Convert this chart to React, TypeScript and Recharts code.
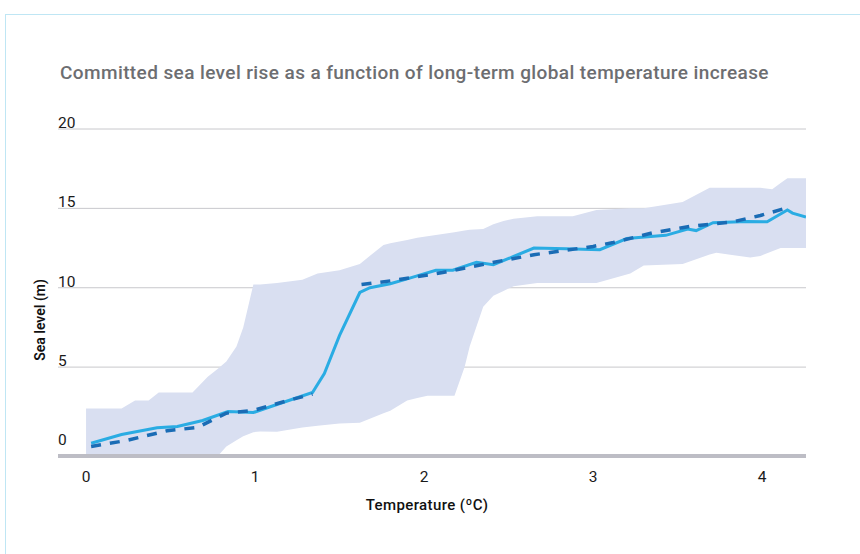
import React from "react";
import {
  ComposedChart,
  Area,
  Line,
  XAxis,
  YAxis,
  CartesianGrid,
} from "recharts";

// temperature (ºC) -> sea level (m)
const bandT = [
  0, 0.21, 0.29, 0.37, 0.43, 0.63, 0.72, 0.78, 0.83, 0.89, 0.93, 0.99, 1.03,
  1.13, 1.2, 1.28, 1.37, 1.5, 1.62, 1.76, 1.8, 1.9, 1.96, 2.02, 2.18, 2.24,
  2.27, 2.35, 2.41, 2.47, 2.53, 2.67, 2.88, 3.02, 3.22, 3.3, 3.53, 3.69, 3.73,
  3.93, 3.99, 4.06, 4.11, 4.15, 4.26,
];
const bandLow = [
  -0.6, -0.6, -0.6, -0.6, -0.6, -0.6, -0.6, -0.6, 0.0, 0.4, 0.65, 0.9, 0.95,
  0.93, 1.05, 1.2, 1.3, 1.45, 1.5, 2.1, 2.25, 2.9, 3.05, 3.2, 3.2, 5.0, 6.3,
  8.8, 9.5, 9.8, 10.1, 10.3, 10.3, 10.3, 10.9, 11.4, 11.5, 12.1, 12.2, 11.9,
  12.0, 12.3, 12.5, 12.5, 12.5,
];
const bandHigh = [
  2.4, 2.4, 2.9, 2.9, 3.4, 3.4, 4.4, 4.9, 5.35, 6.3, 7.5, 10.2, 10.2, 10.3,
  10.4, 10.5, 10.9, 11.1, 11.5, 12.7, 12.8, 13.0, 13.15, 13.25, 13.5, 13.6,
  13.65, 13.7, 14.0, 14.2, 14.35, 14.5, 14.5, 14.9, 15.0, 15.0, 15.4, 16.3,
  16.3, 16.3, 16.3, 16.2, 16.6, 16.9, 16.9,
];

const solidT = [
  0.03, 0.21, 0.42, 0.54, 0.69, 0.84, 0.99, 1.09, 1.34, 1.41, 1.5, 1.62, 1.68,
  1.8, 1.9, 2.07, 2.17, 2.31, 2.41, 2.53, 2.65, 2.84, 3.04, 3.2, 3.43, 3.56,
  3.61, 3.71, 3.91, 4.03, 4.15, 4.18, 4.26,
];
const solidV = [
  0.2, 0.75, 1.18, 1.26, 1.64, 2.2, 2.14, 2.5, 3.4, 4.6, 7.0, 9.7, 10.0, 10.25,
  10.56, 11.1, 11.1, 11.6, 11.45, 11.97, 12.5, 12.46, 12.4, 13.1, 13.3, 13.7,
  13.6, 14.1, 14.18, 14.15, 14.9, 14.7, 14.45,
];

const dashT = [
  0.03, 0.24, 0.48, 0.66, 0.83, 0.99, 1.21, 1.34, 1.5, 1.63, 1.82, 2.11, 2.39,
  2.65, 3.0, 3.12, 3.35, 3.57, 3.83, 3.99, 4.15,
];
const dashV = [
  0.0, 0.38, 0.99, 1.2, 2.1, 2.27, 2.94, 3.3, null, 10.2, 10.46, 10.96, 11.56,
  12.08, 12.6, 12.85, 13.45, 13.86, 14.16, 14.55, 15.04,
];

const xTicks = [0, 1, 2, 3, 4];
const yTicks = [0, 5, 10, 15, 20];
const gridValues = [5, 10, 15, 20];

const Y_MIN = -0.6;
const Y_MAX = 20;

const bandData = bandT.map((t, i) => ({ t, range: [bandLow[i], bandHigh[i]] }));
const solidData = solidT.map((t, i) => ({ t, v: solidV[i] }));
const dashData = dashT.map((t, i) => ({ t, v: dashV[i] }));

const FONT = "Roboto, 'Noto Sans', sans-serif";

const YTick = ({ y, payload }: any) => (
  <text x={58} y={y - 1} fontSize={15.5} fill="#1a1a1a" fontFamily={FONT}>
    {payload.value}
  </text>
);

const XTick = ({ x, payload }: any) => (
  <text
    x={x}
    y={482}
    fontSize={15.5}
    fill="#1a1a1a"
    textAnchor="middle"
    fontFamily={FONT}
  >
    {payload.value}
  </text>
);

export default function App() {
  return (
    <div
      style={{
        position: "absolute",
        left: 0,
        top: 0,
        width: 860,
        height: 554,
        background: "#fff",
        fontFamily: FONT,
      }}
    >
      <div
        style={{
          position: "absolute",
          left: 5,
          top: 14,
          right: 0,
          bottom: 0,
          borderTop: "1.5px solid #bfe6f4",
          borderLeft: "1.5px solid #bfe6f4",
        }}
      />
      <div
        style={{
          position: "absolute",
          left: 60,
          top: 61,
          fontSize: 19,
          letterSpacing: 0.4,
          fontWeight: 500,
          color: "#6d6e71",
          whiteSpace: "nowrap",
        }}
      >
        Committed sea level rise as a function of long-term global temperature
        increase
      </div>
      <div
        style={{
          position: "absolute",
          left: 40,
          top: 320,
          transform: "translate(-50%, -50%) rotate(-90deg)",
          fontSize: 14,
          fontWeight: 600,
          color: "#111",
          whiteSpace: "nowrap",
        }}
      >
        Sea level (m)
      </div>
      <div
        style={{
          position: "absolute",
          left: 427,
          top: 505,
          transform: "translate(-50%, -50%)",
          fontSize: 15,
          letterSpacing: 0.4,
          fontWeight: 500,
          color: "#111",
          whiteSpace: "nowrap",
        }}
      >
        Temperature (ºC)
      </div>
      <ComposedChart
        width={860}
        height={554}
        margin={{ top: 129, right: 54, left: 28, bottom: 68 }}
        style={{ position: "absolute", left: 0, top: 0 }}
      >
        <CartesianGrid
          vertical={false}
          stroke="#c8c8cc"
          horizontalCoordinatesGenerator={({ offset }: any) =>
            gridValues.map(
              (v) => offset.top + (offset.height * (Y_MAX - v)) / (Y_MAX - Y_MIN)
            )
          }
        />
        <XAxis
          type="number"
          dataKey="t"
          domain={[-0.166, 4.26]}
          ticks={xTicks}
          allowDataOverflow
          height={30}
          axisLine={{ stroke: "#bdbdc5", strokeWidth: 4 }}
          tickLine={false}
          tick={<XTick />}
        />
        <YAxis
          type="number"
          domain={[Y_MIN, Y_MAX]}
          ticks={yTicks}
          allowDataOverflow
          width={30}
          axisLine={false}
          tickLine={false}
          tick={<YTick />}
        />
        <Area
          data={bandData}
          dataKey="range"
          type="linear"
          stroke="none"
          fill="#d9dff1"
          fillOpacity={1}
          isAnimationActive={false}
        />
        <Line
          data={solidData}
          dataKey="v"
          type="linear"
          stroke="#2aace3"
          strokeWidth={3}
          dot={false}
          isAnimationActive={false}
        />
        <Line
          data={dashData}
          dataKey="v"
          type="linear"
          stroke="#1a6cb5"
          strokeWidth={3.5}
          strokeDasharray="10 9"
          dot={false}
          connectNulls={false}
          isAnimationActive={false}
        />
      </ComposedChart>
    </div>
  );
}
